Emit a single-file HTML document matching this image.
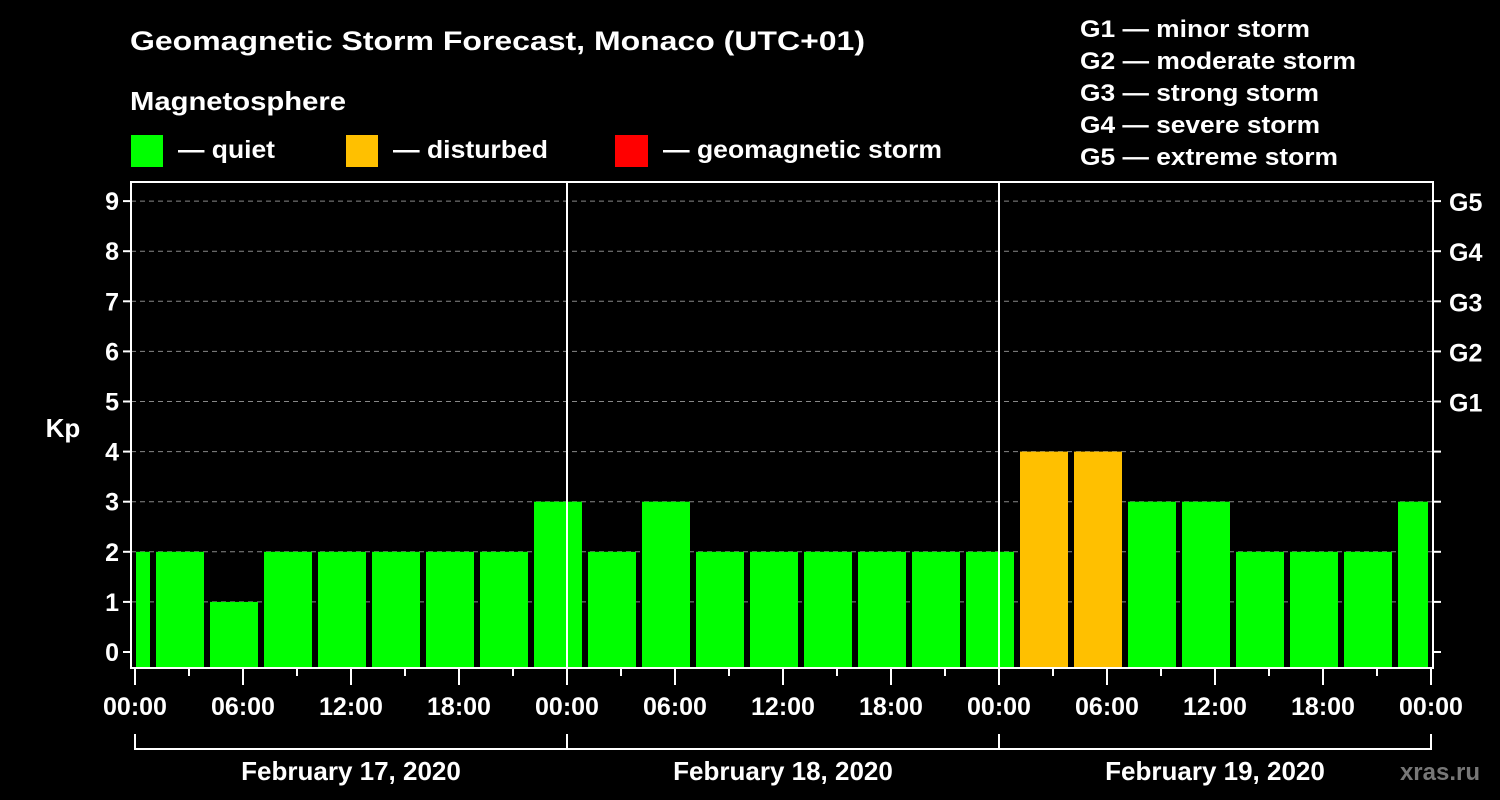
<!DOCTYPE html>
<html><head><meta charset="utf-8"><style>
html,body{margin:0;padding:0;background:#000;}
svg{display:block;font-family:"Liberation Sans",sans-serif;font-weight:bold;}
</style></head><body>
<svg id="chart" width="1500" height="800" xmlns="http://www.w3.org/2000/svg">
<rect width="1500" height="800" fill="#000"/>
<text x="130" y="50" fill="#fff" font-size="27" textLength="735" lengthAdjust="spacingAndGlyphs">Geomagnetic Storm Forecast, Monaco (UTC+01)</text>
<text x="130" y="110" fill="#fff" font-size="26" textLength="216" lengthAdjust="spacingAndGlyphs">Magnetosphere</text>
<rect x="131" y="135" width="32" height="32" fill="#00ff00"/>
<text x="178" y="158" fill="#fff" font-size="25" textLength="97" lengthAdjust="spacingAndGlyphs">— quiet</text>
<rect x="346" y="135" width="32" height="32" fill="#ffc000"/>
<text x="393" y="158" fill="#fff" font-size="25" textLength="155" lengthAdjust="spacingAndGlyphs">— disturbed</text>
<rect x="615" y="135" width="33" height="32" fill="#ff0000"/>
<text x="663" y="158" fill="#fff" font-size="25" textLength="279" lengthAdjust="spacingAndGlyphs">— geomagnetic storm</text>
<g fill="#fff" font-size="24">
<text x="1080" y="37" textLength="230" lengthAdjust="spacingAndGlyphs">G1 — minor storm</text>
<text x="1080" y="69" textLength="276" lengthAdjust="spacingAndGlyphs">G2 — moderate storm</text>
<text x="1080" y="101" textLength="239" lengthAdjust="spacingAndGlyphs">G3 — strong storm</text>
<text x="1080" y="133" textLength="240" lengthAdjust="spacingAndGlyphs">G4 — severe storm</text>
<text x="1080" y="165" textLength="258" lengthAdjust="spacingAndGlyphs">G5 — extreme storm</text>
</g>
<text x="63" y="437" fill="#fff" font-size="26" text-anchor="middle">Kp</text>
<text x="1480" y="780" fill="#777" font-size="24" text-anchor="end">xras.ru</text>
<g id="plot"></g>
</svg>
<script>
const kpValues=[2,2,1,2,2,2,2,2,3,2,3,2,2,2,2,2,2,4,4,3,3,2,2,2,3];
const barStartHours=[-2,1,4,7,10,13,16,19,22,25,28,31,34,37,40,43,46,49,52,55,58,61,64,67,70];
const yTicks=[0,1,2,3,4,5,6,7,8,9];
const gLabels=["G1","G2","G3","G4","G5"];
const gLevels=[5,6,7,8,9];
const hourLabels=["00:00","06:00","12:00","18:00"];
const dayLabels=["February 17, 2020","February 18, 2020","February 19, 2020"];
const NS="http://www.w3.org/2000/svg";
const plot=document.getElementById('plot');
const X0=135,PXH=18,HMAX=72,Y0=652,PXU=50.1,TOP=182,BOT=668,FL=131,FR=1433;
const x=h=>X0+h*PXH, y=v=>Y0-v*PXU;
function mk(tag,attrs,parent){const e=document.createElementNS(NS,tag);for(const k in attrs)e.setAttribute(k,attrs[k]);(parent||plot).appendChild(e);return e;}
// grid
yTicks.forEach(v=>{ if(v>0){const l=mk('line',{x1:FL,x2:FR,y1:y(v),y2:y(v),stroke:'#888','stroke-width':1,'stroke-dasharray':'5,4'});

}
const t=mk('line',{x1:FL-8,x2:FL,y1:y(v),y2:y(v),stroke:'#fff','stroke-width':2});


const rt=mk('line',{x1:FR,x2:FR+8,y1:y(v),y2:y(v),stroke:'#fff','stroke-width':2});


const tx=mk('text',{x:FL-12,y:y(v)+9,fill:'#fff','font-size':25,'text-anchor':'end'});tx.textContent=v;


});
gLabels.forEach((g,i)=>{const t=mk('text',{x:1449,y:y(gLevels[i])+10,fill:'#fff','font-size':25});t.textContent=g;

});
// bars
kpValues.forEach((v,i)=>{const s=Math.max(0,barStartHours[i]),e=Math.min(HMAX,barStartHours[i]+3);
const x1=x(s)+(barStartHours[i]<0?1:3),x2=x(e)-3;
const r=mk('rect',{x:x1,y:y(v),width:x2-x1,height:BOT-y(v),fill:v>=5?'#ff0000':(v>=4?'#ffc000':'#00ff00')});

});
// day lines
[24,48].forEach(h=>{const l=mk('line',{x1:x(h),x2:x(h),y1:TOP,y2:BOT,stroke:'#fff','stroke-width':2});

});
// frame
const f=mk('rect',{x:FL,y:TOP,width:FR-FL,height:BOT-TOP,fill:'none',stroke:'#fff','stroke-width':2});


// x ticks
for(let h=0;h<=HMAX;h+=3){const len=h%6===0?17:8;
const t=mk('line',{x1:x(h),x2:x(h),y1:BOT,y2:BOT+len,stroke:'#fff','stroke-width':2});


if(h%6===0){const tx=mk('text',{x:x(h),y:715,fill:'#fff','font-size':25,'text-anchor':'middle'});tx.textContent=hourLabels[(h/6)%4];

}}
// day bracket
const b=mk('line',{x1:x(0),x2:x(HMAX),y1:749,y2:749,stroke:'#fff','stroke-width':2});


[0,24,48,72].forEach(h=>{const l=mk('line',{x1:x(h),x2:x(h),y1:734,y2:750,stroke:'#fff','stroke-width':2});

});
dayLabels.forEach((d,i)=>{const t=mk('text',{x:x(i*24+12),y:780,fill:'#fff','font-size':26,'text-anchor':'middle'});t.textContent=d;

});
</script>
</body></html>
